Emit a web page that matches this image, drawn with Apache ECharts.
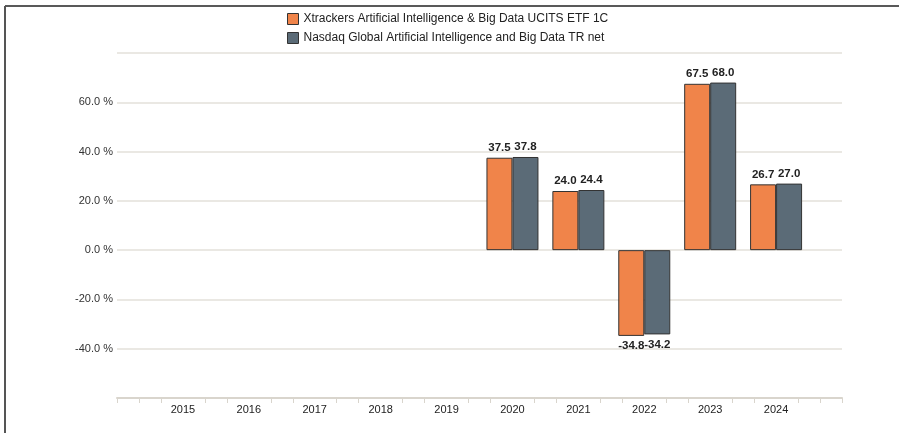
<!DOCTYPE html>
<html><head><meta charset="utf-8">
<script src="https://cdn.jsdelivr.net/npm/echarts@6/dist/echarts.min.js"></script>
<style>html,body{margin:0;padding:0;background:#fff}#c{width:899px;height:433px}</style>
</head><body><div id="c"></div>
<script>
const categories = ['2014','2015','2016','2017','2018','2019','2020','2021','2022','2023','2024','2025'];
const seriesNames = ['Xtrackers Artificial Intelligence & Big Data UCITS ETF 1C','Nasdaq Global Artificial Intelligence and Big Data TR net'];
const fundValues = [null,null,null,null,null,null,37.5,24.0,-34.8,67.5,26.7,null];
const indexValues = [null,null,null,null,null,null,37.8,24.4,-34.2,68.0,27.0,null];
const yTicks = [-60,-40,-20,0,20,40,60,80];
const colors = ['#F0844A','#5B6B77'];

const tickSlots = Array.from({length:34},(_,i)=>String(i));
const chart = echarts.init(document.getElementById('c'));
function mkLabel(v){return v.value==null?'':v.value.toFixed(1);}
function mkData(arr){return arr.map(v=>v==null?null:{value:v,label:{position:v<0?'bottom':'top'}});}
chart.setOption({
  animation:false,
  textStyle:{fontFamily:'Liberation Sans, Arial, sans-serif'},
  legend:{orient:'vertical',left:282,top:8,itemWidth:11,itemHeight:11,itemGap:7,
    icon:'rect',textStyle:{fontSize:12,color:'#222'},
    data:seriesNames.map((n,i)=>({name:n,itemStyle:{color:colors[i],borderColor:'#333',borderWidth:1}}))},
  grid:{left:117,right:57,top:53,bottom:35,containLabel:false},
  xAxis:[{type:'category',data:categories,boundaryGap:false,
    axisLine:{show:false},axisTick:{show:false},
    axisLabel:{interval:0,color:'#222',fontSize:11,margin:6,
      formatter:v=>(v==='2014'||v==='2025')?'':v}},
    {type:'category',data:tickSlots,boundaryGap:false,position:'bottom',
    axisLine:{show:true,lineStyle:{color:'#d9d5cd',width:2}},
    axisTick:{show:true,length:5,lineStyle:{color:'#d9d5cd',width:1},
      interval:(i)=>!(i%3===0 && i!==0 && i!==33)},
    axisLabel:{show:false}}],
  yAxis:{type:'value',min:yTicks[0],max:yTicks[yTicks.length-1],interval:20,
    axisLine:{show:false},axisTick:{show:false},
    splitLine:{lineStyle:{color:'#e3e0da',width:1.5}},
    axisLabel:{color:'#333',fontSize:11,margin:4,
      formatter:v=>(v===-60||v===80)?'':v.toFixed(1)+' %'}},
  series:[fundValues,indexValues].map((arr,i)=>({
    name:seriesNames[i],type:'bar',xAxisIndex:0,data:mkData(arr),
    barWidth:26,barGap:'0%',
    itemStyle:{color:colors[i],borderColor:'#333',borderWidth:1},
    label:{show:true,formatter:mkLabel,color:'#222',fontSize:11.5,fontWeight:'bold',distance:4}
  })),
  graphic:[
    {type:'line',shape:{x1:5,y1:6,x2:899,y2:6},style:{stroke:'#222',lineWidth:1.5}},
    {type:'line',shape:{x1:5,y1:6,x2:5,y2:433},style:{stroke:'#555',lineWidth:2}}
  ]
});
</script></body></html>
